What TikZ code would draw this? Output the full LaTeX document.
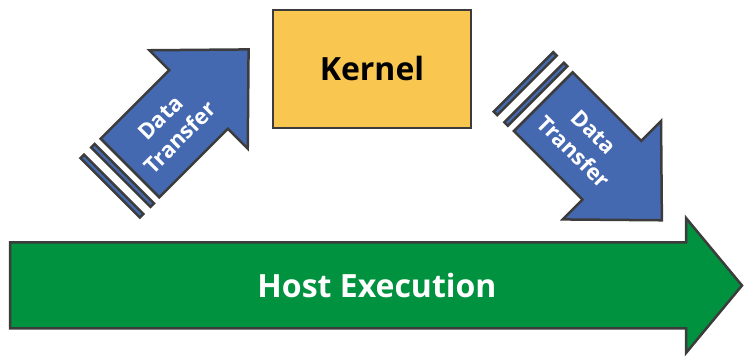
\documentclass[tikz,border=0pt]{standalone}
\usepackage{fontspec}
\setmainfont{Open Sans}
\definecolor{xferblue}{HTML}{4569B1}
\definecolor{hostgreen}{HTML}{00923F}
\definecolor{kernelyellow}{HTML}{F9C74F}
\definecolor{edgegray}{HTML}{3C3C3C}

\begin{document}
\begin{tikzpicture}[x=1pt,y=1pt,
    outl/.style={draw=edgegray, line width=2.5pt, line join=miter},
    xfertext/.style={text=white, font=\bfseries\fontsize{22}{28}\selectfont, align=center}]
    \useasboundingbox (0,0) rectangle (744,356);

    \draw[outl, fill=hostgreen] (10,27.5)--(686,27.5)--(686,3)--(742,70.5)--(686,138)--(686,113.5)--(10,113.5)--cycle;
    \node[text=white, font=\bfseries\fontsize{32}{38}\selectfont] (host) at (377,70.5) {Host Execution};

    \node[outl, fill=kernelyellow, minimum width=198, minimum height=118, inner sep=0,
        font=\bfseries\fontsize{32}{38}\selectfont] (kernel) at (372,287) {Kernel};

    \begin{scope}[shift={(130,188)}, rotate=45]
        \draw[outl, fill=xferblue] (0,-41.5)--(97,-41.5)--(97,-69.5)--(167.7,0)--(97,69.5)--(97,41.5)--(0,41.5)--cycle;
        \draw[outl, fill=xferblue] (-13,-42) rectangle (-8,42);
        \draw[outl, fill=xferblue] (-28,-42) rectangle (-23,42);
        \node[xfertext, rotate=45] (xferin) at (57,0) {Data\\Transfer};
    \end{scope}

    \begin{scope}[shift={(543.3,254.3)}, rotate=-45]
        \draw[outl, fill=xferblue] (0,-41.5)--(97,-41.5)--(97,-69.5)--(167.7,0)--(97,69.5)--(97,41.5)--(0,41.5)--cycle;
        \draw[outl, fill=xferblue] (-13,-42) rectangle (-8,42);
        \draw[outl, fill=xferblue] (-28,-42) rectangle (-23,42);
        \node[xfertext, rotate=-45] (xferout) at (57,0) {Data\\Transfer};
    \end{scope}
\end{tikzpicture}
\end{document}
